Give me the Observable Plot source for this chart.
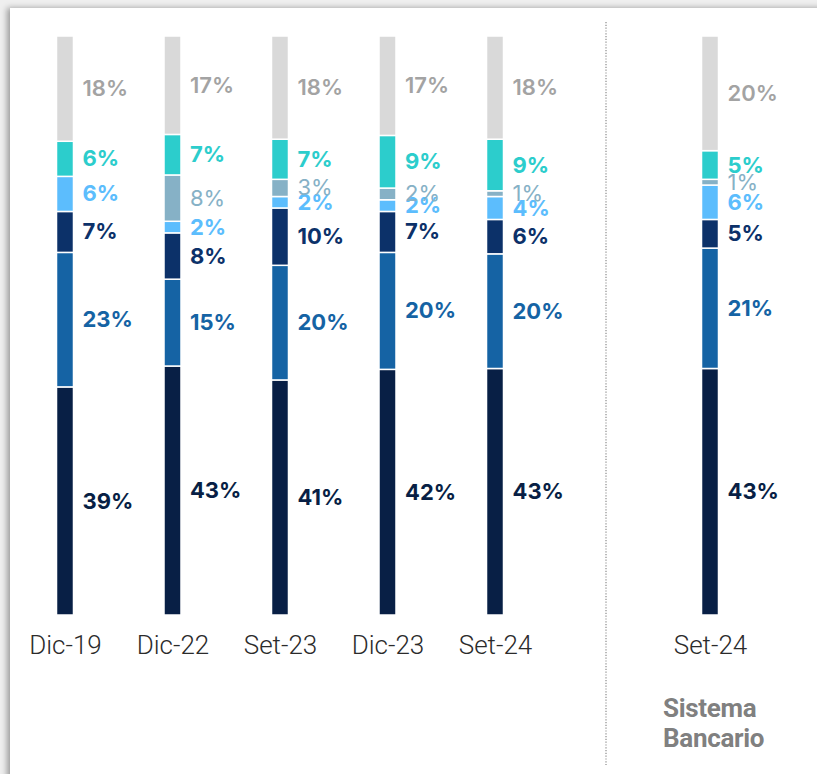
<!DOCTYPE html>
<html>
<head>
<meta charset="utf-8">
<script src="https://cdn.jsdelivr.net/npm/d3@7"></script>
<script src="https://cdn.jsdelivr.net/npm/@observablehq/plot@0.6"></script>
<style>
  html, body { margin: 0; padding: 0; }
  body { width: 817px; height: 774px; background: #efefef; position: relative; overflow: hidden; }
  #card { position: absolute; left: 10px; top: 8px; width: 840px; height: 800px; background: #ffffff;
          box-shadow: -3px 0 6px rgba(0,0,0,0.35); }
  #chart { position: absolute; left: 0; top: 0; }
  #chart svg { background: transparent; }
  #chart g[aria-label="x-axis tick label"] text { font-family: Roboto, sans-serif; font-weight: 300; font-size: 26px; fill: #2b2b2b; }
  #note { position: absolute; left: 663px; top: 693px; font-family: Roboto, sans-serif; font-weight: 700;
          font-size: 26px; line-height: 30px; color: #808080; letter-spacing: -0.3px; }
</style>
</head>
<body>
<div id="card"></div>
<div id="chart"></div>
<div id="note">Sistema<br>Bancario</div>
<script>
// Categories (x), the last is the banking system as of Set-24
const periods = ["Dic-19", "Dic-22", "Set-23", "Dic-23", "Set-24", "sep", "Sistema Set-24"];
const tickLabels = ["Dic-19", "Dic-22", "Set-23", "Dic-23", "Set-24", "", "Set-24"];
const barPeriods = ["Dic-19", "Dic-22", "Set-23", "Dic-23", "Set-24", "Sistema Set-24"];

// Series, bottom to top
const seriesNames = ["S1", "S2", "S3", "S4", "S5", "S6", "S7"];
const s1 = [39, 43, 41, 42, 43, 43];
const s2 = [23, 15, 20, 20, 20, 21];
const s3 = [7, 8, 10, 7, 6, 5];
const s4 = [6, 2, 2, 2, 4, 6];
const s5 = [0, 8, 3, 2, 1, 1];
const s6 = [6, 7, 7, 9, 9, 5];
const s7 = [18, 17, 18, 17, 18, 20];
const seriesValues = [s1, s2, s3, s4, s5, s6, s7];

const barColors = ["#081f45", "#1563a4", "#0c3169", "#5cbdfd", "#86b1c6", "#2ccdcc", "#d9d9d9"];
const topLabelColor = "#a3a3a3";

const data = [];
barPeriods.forEach((p, i) => {
  seriesNames.forEach((s, j) => {
    data.push({period: p, series: s, value: seriesValues[j][i]});
  });
});

const stackOpts = (extra) => Plot.stackY({
  x: "period", y: "value", z: "series", order: seriesNames, offset: "normalize", ...extra
});

const boldSeries = ["S1", "S2", "S3", "S4", "S6"];
const pct = (d) => d.value + "%";

const chart = Plot.plot({
  width: 817,
  height: 774,
  marginTop: 36,
  marginBottom: 159,
  marginLeft: 0,
  marginRight: 42,
  style: {background: "transparent", overflow: "visible"},
  x: {domain: periods, paddingInner: 0.842, paddingOuter: 0.5256, align: 0.5, round: false, label: null},
  y: {axis: null, domain: [0, 1]},
  color: {domain: seriesNames, range: barColors},
  marks: [
    Plot.ruleX(["sep"], {x: d => d, stroke: "#8a8a8a", strokeWidth: 1.2, strokeDasharray: "1.2,1.6", dx: 3,
      insetTop: -14, insetBottom: -150}),
    Plot.barY(data, stackOpts({fill: "series", stroke: "#ffffff", strokeWidth: 1.5})),
    Plot.text(data, stackOpts({
      text: d => boldSeries.includes(d.series) && d.value > 0 ? pct(d) : null,
      fill: "series", textAnchor: "start", dx: 17, fontSize: 22, fontWeight: 700,
      fontFamily: "Inter, sans-serif"
    })),
    Plot.text(data, stackOpts({
      text: d => d.series === "S5" && d.value > 0 ? pct(d) : null,
      fill: "series", textAnchor: "start", dx: 17, fontSize: 22, fontWeight: 400,
      fontFamily: "Inter, sans-serif"
    })),
    Plot.text(data, stackOpts({
      text: d => d.series === "S7" ? pct(d) : null,
      fill: topLabelColor, textAnchor: "start", dx: 17, fontSize: 22, fontWeight: 600,
      fontFamily: "Inter, sans-serif"
    })),
    Plot.axisX({tickSize: 0, tickPadding: 20, tickFormat: (d, i) => tickLabels[periods.indexOf(d)], label: null})
  ]
});
document.getElementById("chart").appendChild(chart);
</script>
</body>
</html>
